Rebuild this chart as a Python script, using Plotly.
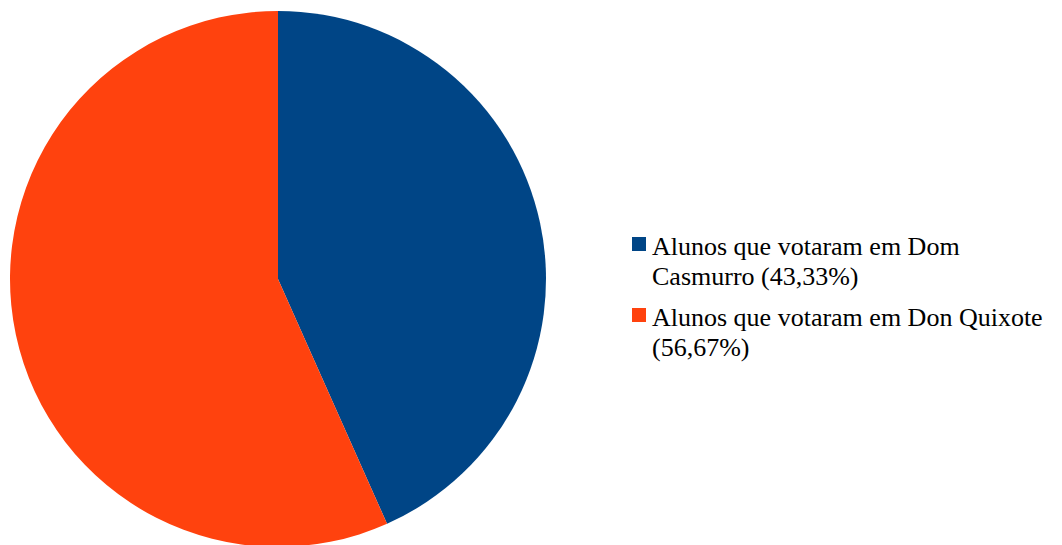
import plotly.graph_objects as go

labels = ["Alunos que votaram em Dom Casmurro (43,33%)",
          "Alunos que votaram em Don Quixote (56,67%)"]
legend_lines = [["Alunos que votaram em Dom", "Casmurro (43,33%)"],
                ["Alunos que votaram em Don Quixote", "(56,67%)"]]
values = [43.33, 56.67]
colors = ["#004586", "#ff420e"]

W, H = 1062, 545
OFF = 8  # default page body margin


def px(x):
    return (x - OFF) / W


def py(y):
    return (H - (y - OFF)) / H


fig = go.Figure(go.Pie(
    labels=labels,
    values=values,
    marker=dict(colors=colors, line=dict(width=0)),
    sort=False,
    direction="clockwise",
    rotation=0,
    textinfo="none",
    hoverinfo="label+percent",
    domain=dict(x=[(10 - OFF) / W, (546 - OFF) / W],
                y=[(H - 539) / H, (H - 3) / H]),
))

SERIF = "Times New Roman, Liberation Serif, Tinos, serif"
FS = 26

# Legend drawn as shapes + annotations
item_top = [237, 308]     # viewport y of each square's top
line_gap = 30
for i, (lines, col) in enumerate(zip(legend_lines, colors)):
    top = item_top[i]
    fig.add_shape(type="rect", xref="paper", yref="paper",
                  x0=px(632), x1=px(646), y0=py(top + 14), y1=py(top),
                  fillcolor=col, line=dict(width=0))
    base = top + 18  # baseline of first line
    for j, t in enumerate(lines):
        fig.add_annotation(text=t, xref="paper", yref="paper",
                           x=px(650), y=py(base + j * line_gap - 9),
                           xanchor="left", yanchor="middle", showarrow=False,
                           font=dict(family=SERIF, size=FS, color="black"))

fig.update_layout(
    width=W, height=H,
    margin=dict(l=0, r=0, t=0, b=0),
    paper_bgcolor="white",
    plot_bgcolor="white",
    showlegend=False,
)

fig.write_html("out.html")
